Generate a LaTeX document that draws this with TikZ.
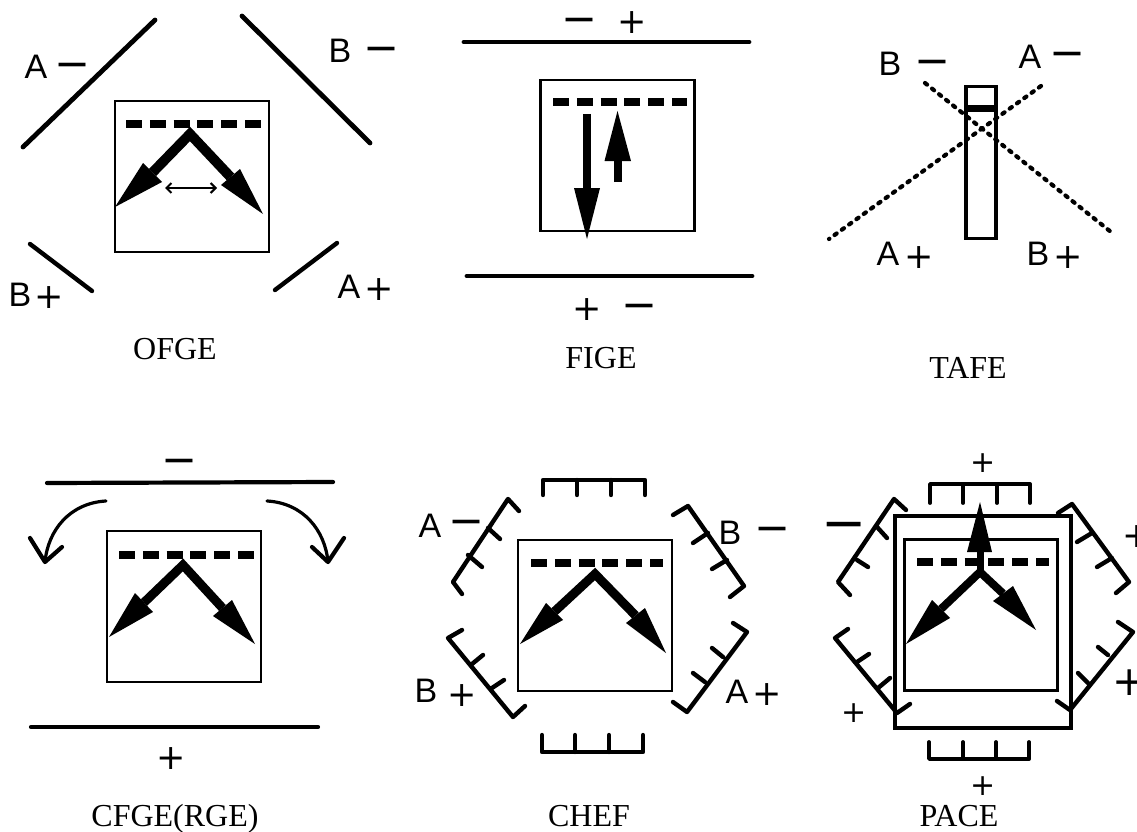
\documentclass[tikz,border=0pt]{standalone}
\usepackage{fontspec}
\setmainfont{Liberation Serif}
\newfontfamily\letfont{Liberation Sans}
\newfontfamily\symfont{DejaVu Sans}
\usetikzlibrary{calc,arrows.meta}
\tikzset{
  capt/.style={anchor=base,inner sep=0pt,font=\fontsize{32}{32}\selectfont},
  letter/.style={anchor=base,inner sep=0pt,font=\letfont\fontsize{34}{34}\selectfont},
  plusmark/.style={anchor=base,inner sep=0pt,yshift=-11pt,font=\symfont\fontsize{35}{35}\selectfont},
  smallplus/.style={anchor=base,inner sep=0pt,yshift=-9.4pt,font=\symfont\fontsize{30}{30}\selectfont},
  bigplus/.style={anchor=base,inner sep=0pt,yshift=-13pt,font=\symfont\fontsize{41}{41}\selectfont},
  minusmark/.style={anchor=base,inner sep=0pt,yshift=-13.5pt,font=\symfont\fontsize{43}{43}\selectfont},
  bigminus/.style={anchor=base,inner sep=0pt,yshift=-17pt,font=\symfont\fontsize{54}{54}\selectfont},
  chip/.style={draw=black,line width=2.4pt,inner sep=0pt,minimum width=154pt,minimum height=151pt},
  gatedash/.style={line width=7.5pt,dash pattern=on 16pt off 7.8pt},
  plate/.style={line width=4.8pt,line cap=round},
  comb/.style={line width=4.4pt,line cap=round,line join=round},
  curveline/.style={line width=3.2pt,line cap=round,line join=round},
  dotline/.style={line width=4.2pt,line cap=round,dash pattern=on 2.6pt off 6.4pt}
}
\newcommand{\fatvee}[8]{%
  \coordinate (ap) at #1;
  \coordinate (tl) at #2; \coordinate (la) at #3; \coordinate (lb) at #4;
  \coordinate (tr) at #5; \coordinate (ra) at #6; \coordinate (rb) at #7;
  \draw[line width=#8,miter limit=10] ($(la)!.5!(lb)$) -- (ap) -- ($(ra)!.5!(rb)$);
  \fill (tl) -- (la) -- (lb) -- cycle;
  \fill (tr) -- (ra) -- (rb) -- cycle;
}
\begin{document}
\begin{tikzpicture}[x=1pt,y=-1pt]
\useasboundingbox (0,0) rectangle (1137,832);
\clip (0,0) rectangle (1137,832);
\fill[white] (0,0) rectangle (1137,832);

% OFGE
\coordinate (o1) at (23,147); \coordinate (o2) at (155,20);
\coordinate (o3) at (242,16); \coordinate (o4) at (370,143);
\coordinate (o5) at (30,244); \coordinate (o6) at (92,291);
\coordinate (o7) at (275,290); \coordinate (o8) at (337,243);
\draw[plate] (o1) -- (o2);
\draw[plate] (o3) -- (o4);
\draw[plate,line width=4.4pt] (o5) -- (o6);
\draw[plate,line width=4.4pt] (o7) -- (o8);
\node[chip] (ofgebox) at (192,176.5) {};
\coordinate (og1) at (126,124); \coordinate (og2) at (261,124);
\draw[gatedash] (og1) -- (og2);
\fatvee{(190,134)}{(115,207)}{(143,163)}{(162,182)}{(263,214)}{(240,169)}{(221,185)}{10pt}
\coordinate (od1) at (165,188); \coordinate (od2) at (217,188);
\draw[line width=2pt,{Straight Barb[length=5pt,width=10pt]}-{Straight Barb[length=5pt,width=10pt]}] (od1) -- (od2);
\node[letter] (oa1) at (36,79) {A};
\node[minusmark] (oa2) at (73,65) {−};
\node[letter] (ob1) at (340,63) {B};
\node[minusmark] (ob2) at (382,49) {−};
\node[letter] (oc1) at (20,306) {B};
\node[plusmark] (oc2) at (49,297) {+};
\node[letter] (od3) at (349,298) {A};
\node[plusmark] (od4) at (379,289) {+};
\node[capt] (ofge) at (175,359) {OFGE};

% FIGE
\coordinate (f1) at (464,42); \coordinate (f2) at (749,42);
\coordinate (f3) at (467,276); \coordinate (f4) at (752,276);
\draw[plate] (f1) -- (f2);
\draw[plate] (f3) -- (f4);
\node[chip] (figebox) at (617.5,155.5) {};
\coordinate (fg1) at (553,102); \coordinate (fg2) at (687,102);
\draw[gatedash] (fg1) -- (fg2);
\coordinate (fa1) at (587,114); \coordinate (fa2) at (587,190);
\draw[line width=8pt] (fa1) -- (fa2);
\fill (587,239) -- (574,188) -- (600,188) -- cycle;
\coordinate (fb1) at (617.5,182); \coordinate (fb2) at (617.5,159);
\draw[line width=8pt] (fb1) -- (fb2);
\fill (617.5,111) -- (604.5,161) -- (631,161) -- cycle;
\node[minusmark] (fm1) at (580,20) {−};
\node[plusmark] (fp1) at (632,23) {+};
\node[plusmark] (fp2) at (587,309) {+};
\node[minusmark] (fm2) at (640,306) {−};
\node[capt] (fige) at (601,368) {FIGE};

% TAFE
\node[chip,line width=3.6pt,minimum width=30pt,minimum height=152pt] (tafebox) at (981,162.5) {};
\coordinate (t1) at (967,109); \coordinate (t2) at (994,109);
\draw[line width=7pt] (t1) -- (t2);
\coordinate (t3) at (925,83); \coordinate (t4) at (1111,232);
\coordinate (t5) at (1041,86); \coordinate (t6) at (829,239);
\draw[dotline] (t3) -- (t4);
\draw[dotline] (t5) -- (t6);
\node[letter] (ta1) at (890,76) {B};
\node[minusmark] (ta2) at (933,62) {−};
\node[letter] (tb1) at (1030,69) {A};
\node[minusmark] (tb2) at (1067,54) {−};
\node[letter] (tc1) at (888,265) {A};
\node[plusmark] (tc2) at (919,257) {+};
\node[letter] (td1) at (1038,265) {B};
\node[plusmark] (td2) at (1068,257) {+};
\node[capt] (tafe) at (968,378) {TAFE};

% CFGE(RGE)
\coordinate (c1) at (47,483); \coordinate (c2) at (333,482);
\coordinate (c3) at (31,727); \coordinate (c4) at (318,727);
\draw[plate,line width=4.2pt] (c1) -- (c2);
\draw[plate,line width=4.2pt] (c3) -- (c4);
\node[chip] (cfgebox) at (184,606.5) {};
\coordinate (cg1) at (119,555); \coordinate (cg2) at (254,555);
\draw[gatedash] (cg1) -- (cg2);
\fatvee{(183,565)}{(109,637)}{(135,593)}{(153,612)}{(255,644)}{(232,600)}{(213,616)}{9pt}
\coordinate (ca1) at (106,501); \coordinate (ca2) at (45,562);
\coordinate (ca3) at (30,538); \coordinate (ca4) at (62,547);
\draw[curveline] (ca1) .. controls (70,503) and (48,530) .. (ca2);
\draw[curveline,line width=4.2pt] (ca3) -- (ca2) -- (ca4);
\coordinate (cb1) at (267,501); \coordinate (cb2) at (328,562);
\coordinate (cb3) at (312,547); \coordinate (cb4) at (344,538);
\draw[curveline] (cb1) .. controls (303,503) and (325,530) .. (cb2);
\draw[curveline,line width=4.2pt] (cb3) -- (cb2) -- (cb4);
\node[minusmark] (cm) at (180,461) {−};
\node[plusmark] (cp) at (171,758) {+};
\node[capt] (cfge) at (175,826.5) {CFGE(RGE)};

% CHEF
\node[chip] (chefbox) at (595,615.5) {};
\coordinate (hg1) at (531,563); \coordinate (hg2) at (663,563);
\draw[gatedash] (hg1) -- (hg2);
\fatvee{(595,574)}{(520,644)}{(546,603)}{(563,620)}{(666,653)}{(645,608)}{(626,623)}{9pt}
\draw[comb] (543,495) -- (543,480) -- (645,480) -- (645,495) (577,480) -- (577,495) (611,480) -- (611,495);
\draw[comb] (542,735) -- (542,752) -- (643,752) -- (643,735) (575,752) -- (575,735) (609,752) -- (609,735);
\draw[comb] (519,511) -- (508,499) -- (453,582) -- (462,594) (488,528) -- (500,539) (468,555) -- (482,567);
\draw[comb] (673,515) -- (688,506) -- (744,586) -- (730,597) (708,533) -- (693,543) (727,560) -- (712,569);
\draw[comb] (462,630) -- (448,638) -- (513,717) -- (525,706) (472,664) -- (483,655) (492,688) -- (504,680);
\draw[comb] (733,623) -- (747,632) -- (687,712) -- (673,702) (723,657) -- (712,648) (705,682) -- (693,673);
\node[letter] (ha1) at (430,537) {A};
\node[minusmark] (ha2) at (467,522) {−};
\node[letter] (hb1) at (730,544) {B};
\node[minusmark] (hb2) at (773,529) {−};
\node[letter] (hc1) at (426,702) {B};
\node[plusmark] (hc2) at (462,695) {+};
\node[letter] (hd1) at (737,703) {A};
\node[plusmark] (hd2) at (767,694) {+};
\node[capt] (chef) at (589,826.5) {CHEF};

% PACE
\node[chip,line width=4pt,minimum width=176pt,minimum height=212pt] (paceouter) at (983,622) {};
\node[chip,line width=3pt,minimum width=153pt,minimum height=151pt] (paceinner) at (980.5,614.5) {};
\coordinate (pg1) at (917,562); \coordinate (pg2) at (1049,562);
\draw[gatedash] (pg1) -- (pg2);
\fatvee{(980,572)}{(906,644)}{(932,600)}{(950,618)}{(1036,630)}{(1013,586)}{(993,601)}{8pt}
\coordinate (pu1) at (980,575); \coordinate (pu2) at (980,550);
\draw[line width=7pt] (pu1) -- (pu2);
\fill (980,502) -- (967,552) -- (992,552) -- cycle;
\draw[comb,line width=3.8pt] (930,503) -- (930,484) -- (1030,484) -- (1030,503) (963,484) -- (963,503) (997,484) -- (997,503);
\draw[comb,line width=3.8pt] (929,742) -- (929,759) -- (1029,759) -- (1029,742) (963,759) -- (963,742) (996,759) -- (996,742);
\draw[comb] (906,510) -- (894,499) -- (838,582) -- (850,595) (877,527) -- (887,538) (857,560) -- (868,567);
\draw[comb] (1058,513) -- (1072,504) -- (1129,582) -- (1116,593) (1092,533) -- (1077,542) (1112,558) -- (1097,567);
\draw[comb] (848,629) -- (835,638) -- (897,713) -- (910,704) (857,662) -- (869,654) (878,688) -- (890,678);
\draw[comb] (1118,622) -- (1133,632) -- (1070,710) -- (1057,701) (1108,655) -- (1098,647) (1088,683) -- (1078,673);
\node[smallplus] (pp1) at (983,463) {+};
\node[smallplus] (pp2) at (983,786) {+};
\node[bigminus] (pm) at (844,524) {−};
\node[plusmark] (pp3) at (1137,536) {+};
\node[bigplus] (pp4) at (1130,682) {+};
\node[smallplus] (pp5) at (854,713) {+};
\node[capt] (pace) at (959,826.5) {PACE};
\end{tikzpicture}
\end{document}
